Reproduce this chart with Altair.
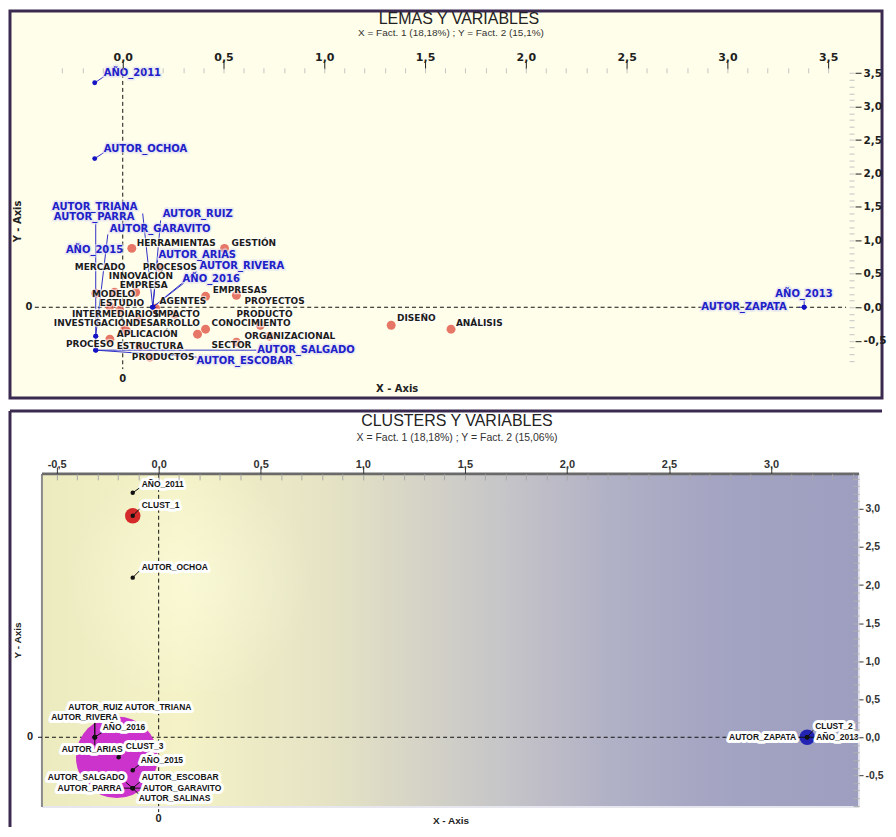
import altair as alt
import pandas as pd

# ====================== PANEL 1 : LEMAS Y VARIABLES ======================
lemas = ["HERRAMIENTAS", "GESTIÓN", "MERCADO", "PROCESOS", "INNOVACIÓN", "EMPRESA",
         "EMPRESAS", "MODELO", "ESTUDIO", "AGENTES", "PROYECTOS", "INTERMEDIARIOS",
         "IMPACTO", "PRODUCTO", "INVESTIGACIÓN", "DESARROLLO", "CONOCIMIENTO",
         "APLICACIÓN", "ORGANIZACIONAL", "PROCESO", "ESTRUCTURA", "SECTOR",
         "PRODUCTOS", "DISEÑO", "ANÁLISIS"]
lemas_x = [0.045, 0.505, -0.134, 0.183, -0.040, 0.064, 0.411, -0.064, -0.015, 0.163,
           0.564, 0.079, 0.257, 0.683, 0.010, 0.371, 0.411, 0.020, 0.728, -0.064,
           0.084, 0.564, 0.134, 1.332, 1.629]
lemas_y = [0.881, 0.881, 0.209, 0.597, 0.224, 0.224, 0.164, 0.015, -0.045, -0.015,
           0.179, -0.164, -0.104, -0.269, -0.328, -0.403, -0.328, -0.358, -0.433, -0.478,
           -0.582, -0.522, -0.746, -0.269, -0.328]
# label anchors (left edge / middle) in data units
lemas_lx = [0.069, 0.540, -0.238, 0.099, -0.069, -0.015, 0.446, -0.153, -0.114, 0.183,
            0.604, -0.252, 0.158, 0.564, -0.342, 0.050, 0.441, -0.030, 0.604, -0.282,
            -0.030, 0.441, 0.045, 1.361, 1.653]
lemas_ly = [0.955, 0.955, 0.597, 0.597, 0.463, 0.328, 0.254, 0.194, 0.060, 0.090,
            0.090, -0.104, -0.104, -0.104, -0.239, -0.239, -0.239, -0.403, -0.433, -0.552,
            -0.582, -0.567, -0.746, -0.164, -0.239]

variables = ["AÑO_2011", "AUTOR_OCHOA", "AUTOR_TRIANA", "AUTOR_PARRA", "AUTOR_GARAVITO",
             "AUTOR_RUIZ", "AÑO_2015", "AUTOR_ARIAS", "AUTOR_RIVERA", "AÑO_2016",
             "AÑO_2013", "AUTOR_ZAPATA", "AUTOR_SALGADO", "AUTOR_ESCOBAR"]
var_x = [-0.139, -0.139, 0.149, -0.134, -0.134, 0.149, -0.134, 0.149, 0.149, 0.149,
         3.381, 3.381, -0.134, -0.134]
var_y = [3.358, 2.224, 0.0, -0.642, -0.433, 0.0, -0.433, 0.0, 0.0, 0.0,
         0.0, 0.0, -0.642, -0.642]
var_lx = [-0.094, -0.094, -0.351, -0.342, -0.064, 0.198, -0.282, 0.178, 0.381, 0.297,
          3.238, 2.871, 0.668, 0.366]
var_ly = [3.507, 2.373, 1.507, 1.343, 1.164, 1.388, 0.851, 0.776, 0.612, 0.418,
          0.194, 0.0, -0.642, -0.806]
# end of the leader line near each label
var_cx = [-0.094, -0.094, 0.099, -0.134, -0.074, 0.188, -0.134, 0.173, 0.366, 0.302,
          3.381, 3.356, 0.663, 0.366]
var_cy = [3.448, 2.313, 1.403, 1.254, 1.090, 1.299, -0.433, 0.701, 0.537, 0.358,
          0.104, 0.0, -0.642, -0.746]

# ====================== PANEL 2 : CLUSTERS Y VARIABLES ======================
items2 = ["AÑO_2011", "CLUST_1", "AUTOR_OCHOA", "AUTOR_RUIZ", "AUTOR_TRIANA", "AUTOR_RIVERA",
          "AÑO_2016", "AUTOR_ARIAS", "CLUST_3", "AÑO_2015", "AUTOR_SALGADO", "AUTOR_ESCOBAR",
          "AUTOR_PARRA", "AUTOR_GARAVITO", "AUTOR_SALINAS", "CLUST_2", "AÑO_2013", "AUTOR_ZAPATA"]
items2_x = [-0.127, -0.127, -0.127, -0.313, -0.313, -0.313, -0.313, -0.313, -0.196, -0.127,
            -0.127, -0.127, -0.127, -0.127, -0.127, 3.177, 3.177, 3.177]
items2_y = [3.211, 2.910, 2.097, 0.0, 0.0, 0.0, 0.0, 0.0, -0.262, -0.432,
            -0.668, -0.668, -0.668, -0.668, -0.668, 0.0, 0.0, 0.0]
items2_lx = [-0.083, -0.083, -0.083, -0.176, -0.166, -0.200, -0.274, -0.176, -0.161, -0.088,
             -0.166, -0.083, -0.181, -0.078, -0.098, 3.216, 3.221, 3.123]
items2_ly = [3.329, 3.054, 2.241, 0.393, 0.393, 0.262, 0.131, -0.157, -0.118, -0.301,
             -0.524, -0.524, -0.668, -0.668, -0.799, 0.144, 0.0, 0.0]
items2_side = ["left", "left", "left", "right", "left", "right", "left", "right", "left", "left",
               "right", "left", "right", "left", "left", "left", "left", "right"]
items2_cx = [-0.093, -0.093, -0.093, -0.313, -0.313, -0.313, -0.269, -0.313, -0.166, -0.093,
             -0.161, -0.088, -0.171, -0.083, -0.093, 3.206, 3.216, 3.128]
items2_cy = [3.277, 3.001, 2.189, 0.328, 0.0, 0.210, 0.079, -0.105, -0.170, -0.354,
             -0.590, -0.577, -0.668, -0.668, -0.760, 0.092, 0.0, 0.0]

clusters = ["CLUST_1", "CLUST_3", "CLUST_2"]
clusters_x = [-0.127, -0.205, 3.177]
clusters_y = [2.910, -0.262, 0.0]

# axis tick values
p1_x_major = [0.0, 0.5, 1.0, 1.5, 2.0, 2.5, 3.0, 3.5]
p1_x_minor = [round(v / 10, 1) for v in range(-3, 36)]
p1_y_major = [-0.5, 0.0, 0.5, 1.0, 1.5, 2.0, 2.5, 3.0, 3.5]
p1_y_minor = [round(v / 10, 1) for v in range(-8, 36)]
p2_x_major = [-0.5, 0.0, 0.5, 1.0, 1.5, 2.0, 2.5, 3.0]
p2_x_minor = [round(v / 10, 1) for v in range(-5, 35)]
p2_y_major = [-0.5, 0.0, 0.5, 1.0, 1.5, 2.0, 2.5, 3.0]
p2_y_minor = [round(v / 10, 1) for v in range(-9, 35)]

# ====================== layout constants ======================
W1, H1 = 874, 388
W2, H2 = 874, 417
DX1, DY1 = [-0.5594, 3.7673], [-1.3582, 4.4328]
DX2, DY2 = [-0.7283, 3.5435], [-1.1795, 4.2857]
PLOT2 = dict(x0=-0.5718, x1=3.4311, y0=-0.917, y1=3.460)

LAB = "replace(replace(format(datum.value, '.1f'), '.', ','), '\u2212', '-')"
VERD = "DejaVu Sans"
ARIAL = "Liberation Sans"


def sx(dom):
    return alt.Scale(domain=dom, nice=False, zero=False)


def major_x(values, offset, size, pad, color, font, fsize):
    return alt.Axis(orient="top", values=values, labelExpr=LAB, offset=offset, domain=False,
                    grid=False, tickSize=size, tickColor=color, labelFont=font,
                    labelFontWeight="bold", labelFontSize=fsize, labelColor=color,
                    labelPadding=pad, title=None, zindex=3, labelOverlap=False, labelFlush=False)


def major_y(values, offset, size, color, font, fsize):
    return alt.Axis(orient="right", values=values, labelExpr=LAB, offset=offset, domain=False,
                    grid=False, tickSize=size, tickColor=color, labelFont=font,
                    labelFontWeight="bold", labelFontSize=fsize, labelColor=color, labelPadding=2,
                    title=None, zindex=3, labelOverlap=False, labelFlush=False)


def minor(orient, values, offset, size, color):
    return alt.Axis(orient=orient, values=values, offset=offset, domain=False, grid=False,
                    labels=False, tickSize=size, tickColor=color, title=None, zindex=3)


# ====================== PANEL 1 ======================
words = pd.DataFrame({"name": lemas, "x": lemas_x, "y": lemas_y, "lx": lemas_lx, "ly": lemas_ly})
vars1 = pd.DataFrame({"name": variables, "x": var_x, "y": var_y, "lx": var_lx, "ly": var_ly,
                      "cx": var_cx, "cy": var_cy})
zero_v1 = pd.DataFrame({"x": [0.0], "y": [3.49], "y2": [-0.925]})
zero_h1 = pd.DataFrame({"y": [0.0], "x": [-0.436], "x2": [3.589]})
zero_t1 = pd.DataFrame({"x": [0.0, -0.465], "y": [-1.075, 0.0], "t": ["0", "0"]})

XN1 = lambda f: alt.X(f, type="quantitative", scale=sx(DX1), axis=None)
YN1 = lambda f: alt.Y(f, type="quantitative", scale=sx(DY1), axis=None)

p1_layers = [
    alt.Chart(zero_v1).mark_rule(color="#111", strokeDash=[4, 3], strokeWidth=1).encode(
        x=XN1("x"), y=YN1("y"), y2="y2"),
    alt.Chart(zero_h1).mark_rule(color="#111", strokeDash=[4, 3], strokeWidth=1).encode(
        y=YN1("y"), x=XN1("x"), x2="x2"),
    alt.Chart(words).mark_circle(size=80, color="#e05848", opacity=0.82).encode(
        x=alt.X("x:Q", scale=sx(DX1),
                axis=major_x(p1_x_major, -58, 8, -2, "#1e1e1e", VERD, 11)),
        y=alt.Y("y:Q", scale=sx(DY1),
                axis=major_y(p1_y_major, -27, 6, "#1e1e1e", VERD, 10.5))),
    alt.Chart(vars1).mark_rule(color="#3030c8", strokeWidth=1).encode(
        x=XN1("x"), y=YN1("y"), x2="cx", y2="cy"),
    alt.Chart(vars1).mark_circle(size=24, color="#1414c4", opacity=1).encode(
        x=alt.X("x:Q", scale=sx(DX1), axis=minor("bottom", p1_x_minor, -331, 5, "#c4c4c4")),
        y=alt.Y("y:Q", scale=sx(DY1), axis=minor("left", p1_y_minor, -846, 5, "#c4c4c4"))),
    alt.Chart(words).mark_text(align="left", baseline="middle", font=VERD, fontWeight="bold",
                               fontSize=9, stroke="#ffffff", strokeWidth=2.5, strokeOpacity=0.6,
                               fill="#ffffff", fillOpacity=0.0).encode(
        x=XN1("lx"), y=YN1("ly"), text="name"),
    alt.Chart(words).mark_text(align="left", baseline="middle", font=VERD, fontWeight="bold",
                               fontSize=9, color="#1c1c1c").encode(
        x=XN1("lx"), y=YN1("ly"), text="name"),
    alt.Chart(vars1).mark_text(align="left", baseline="middle", font=VERD, fontWeight="bold",
                               fontSize=10, stroke="#dcdcf0", strokeWidth=3, strokeOpacity=0.6,
                               fillOpacity=0.0).encode(
        x=XN1("lx"), y=YN1("ly"), text="name"),
    alt.Chart(vars1).mark_text(align="left", baseline="middle", font=VERD, fontWeight="bold",
                               fontSize=10, color="#2020c8").encode(
        x=XN1("lx"), y=YN1("ly"), text="name"),
    alt.Chart(zero_t1).mark_text(align="center", baseline="middle", font=VERD, fontWeight="bold",
                                 fontSize=10, color="#1e1e1e").encode(
        x=XN1("x"), y=YN1("y"), text="t"),
    alt.Chart().mark_text(text="LEMAS Y VARIABLES", font=ARIAL, fontSize=16, color="#222",
                          align="center", baseline="middle").encode(
        x=alt.value(450), y=alt.value(8)),
    alt.Chart().mark_text(text="X = Fact. 1 (18,18%) ; Y = Fact. 2 (15,1%)", font=ARIAL,
                          fontSize=10, color="#333", align="center", baseline="middle").encode(
        x=alt.value(442), y=alt.value(22)),
    alt.Chart().mark_text(text="X - Axis", font=VERD, fontWeight="bold", fontSize=10,
                          color="#222", align="center", baseline="middle").encode(
        x=alt.value(388), y=alt.value(379)),
    alt.Chart().mark_text(text="Y - Axis", font=VERD, fontWeight="bold", fontSize=10,
                          color="#222", align="center", baseline="middle", angle=270).encode(
        x=alt.value(8), y=alt.value(211)),
]

panel1 = alt.layer(*p1_layers).resolve_axis(x="independent", y="independent").properties(
    width=W1, height=H1,
    view=alt.ViewBackground(fill="#fffeea", stroke="#3b2a4f", strokeWidth=3))

# ====================== PANEL 2 ======================
items = pd.DataFrame({"name": items2, "x": items2_x, "y": items2_y, "lx": items2_lx,
                      "ly": items2_ly, "side": items2_side, "cx": items2_cx, "cy": items2_cy})
clu = pd.DataFrame({"name": clusters, "x": clusters_x, "y": clusters_y})
plot_box = pd.DataFrame([PLOT2])
zero_v2 = pd.DataFrame({"x": [0.0], "y": [PLOT2["y1"]], "y2": [-0.983]})
zero_h2 = pd.DataFrame({"y": [0.0], "x": [-0.591], "x2": [PLOT2["x1"]]})
zero_t2 = pd.DataFrame({"x": [0.0, -0.630], "y": [-1.075, 0.0], "t": ["0", "0"]})

XN2 = lambda f: alt.X(f, type="quantitative", scale=sx(DX2), axis=None)
YN2 = lambda f: alt.Y(f, type="quantitative", scale=sx(DY2), axis=None)

grad = alt.LinearGradient(
    gradient="linear", x1=0, x2=1, y1=0, y2=0,
    stops=[alt.GradientStop(color="#ecebc0", offset=0.0),
           alt.GradientStop(color="#f4f2c6", offset=0.17),
           alt.GradientStop(color="#e4e2c4", offset=0.36),
           alt.GradientStop(color="#c8c7c8", offset=0.55),
           alt.GradientStop(color="#b0b0c6", offset=0.70),
           alt.GradientStop(color="#a2a2c2", offset=0.85),
           alt.GradientStop(color="#9e9ec0", offset=1.0)])
glow = alt.RadialGradient(
    gradient="radial", x1=0.5, y1=0.5, x2=0.5, y2=0.5, r1=0, r2=0.5,
    stops=[alt.GradientStop(color="rgba(255,255,225,0.55)", offset=0.0),
           alt.GradientStop(color="rgba(255,255,225,0.0)", offset=1.0)])
glow_box = pd.DataFrame({"x0": [-0.45], "x1": [0.75], "y0": [0.6], "y1": [3.46]})

label_style = dict(baseline="middle", font=ARIAL, fontWeight="bold", fontSize=8.5)

p2_layers = [
    alt.Chart(plot_box).mark_rect(color=grad).encode(
        x=XN2("x0"), x2="x1", y=YN2("y0"), y2="y1"),
    alt.Chart(glow_box).mark_rect(color=glow).encode(
        x=XN2("x0"), x2="x1", y=YN2("y0"), y2="y1"),
    alt.Chart(plot_box).mark_rule(color="#e6e6ee", strokeWidth=2).encode(
        x=XN2("x1"), y=YN2("y0"), y2="y1"),
    alt.Chart(plot_box).mark_rule(color="#e6e6ee", strokeWidth=2).encode(
        y=YN2("y0"), x=XN2("x0"), x2="x1"),
    alt.Chart(plot_box).mark_rule(color="#8a8a8a", strokeWidth=2).encode(
        x=XN2("x0"), y=YN2("y0"), y2="y1"),
    alt.Chart(plot_box).mark_rule(color="#6a6a6a", strokeWidth=3).encode(
        y=YN2("y1"), x=XN2("x0"), x2="x1"),
    alt.Chart(zero_v2).mark_rule(color="#111", strokeDash=[4, 3], strokeWidth=1).encode(
        x=XN2("x"), y=YN2("y"), y2="y2"),
    alt.Chart(zero_h2).mark_rule(color="#111", strokeDash=[4, 3], strokeWidth=1).encode(
        y=YN2("y"), x=XN2("x"), x2="x2"),
    alt.Chart(clu).mark_point(filled=True, opacity=1, shape="circle").encode(
        x=alt.X("x:Q", scale=sx(DX2), axis=minor("bottom", p2_x_minor, -354, 6, "#a8a8a8")),
        y=alt.Y("y:Q", scale=sx(DY2), axis=minor("left", p2_y_minor, -851, 6, "#b0b0b0")),
        color=alt.Color("name:N", legend=None,
                        scale=alt.Scale(domain=clusters, range=["#d42a2a", "#cc33cc", "#2424b4"])),
        size=alt.condition(alt.datum.name == "CLUST_3", alt.value(6700), alt.value(240))),
    alt.Chart(items).mark_rule(color="#111", strokeWidth=1).encode(
        x=XN2("x"), y=YN2("y"), x2="cx", y2="cy"),
    alt.Chart(items).mark_circle(size=20, color="#111", opacity=1).encode(
        x=alt.X("x:Q", scale=sx(DX2),
                axis=major_x(p2_x_major, -63, 7, -3, "#333333", ARIAL, 11)),
        y=alt.Y("y:Q", scale=sx(DY2),
                axis=major_y(p2_y_major, -23, 4, "#333333", ARIAL, 10.5))),
]
for side in ["left", "right"]:
    sub = alt.Chart(items).transform_filter(alt.datum.side == side)
    p2_layers.append(sub.mark_text(align=side, stroke="#ffffff", strokeWidth=6,
                                   strokeJoin="round", fill="#ffffff", **label_style).encode(
        x=XN2("lx"), y=YN2("ly"), text="name"))
for side in ["left", "right"]:
    sub = alt.Chart(items).transform_filter(alt.datum.side == side)
    p2_layers.append(sub.mark_text(align=side, color="#151515", **label_style).encode(
        x=XN2("lx"), y=YN2("ly"), text="name"))

p2_layers += [
    alt.Chart(zero_t2).mark_text(align="center", baseline="middle", font=ARIAL, fontWeight="bold",
                                 fontSize=11, color="#222").encode(
        x=XN2("x"), y=YN2("y"), text="t"),
    alt.Chart().mark_text(text="CLUSTERS Y VARIABLES", font=ARIAL, fontSize=16, color="#222",
                          align="center", baseline="middle").encode(
        x=alt.value(448), y=alt.value(10)),
    alt.Chart().mark_text(text="X = Fact. 1 (18,18%) ; Y = Fact. 2 (15,06%)", font=ARIAL,
                          fontSize=10.5, color="#333", align="center", baseline="middle").encode(
        x=alt.value(448), y=alt.value(27)),
    alt.Chart().mark_text(text="X - Axis", font=ARIAL, fontWeight="bold", fontSize=10,
                          color="#222", align="center", baseline="middle").encode(
        x=alt.value(442), y=alt.value(411)),
    alt.Chart().mark_text(text="Y - Axis", font=ARIAL, fontWeight="bold", fontSize=10,
                          color="#222", align="center", baseline="middle", angle=270).encode(
        x=alt.value(8), y=alt.value(230)),
    alt.Chart().mark_rule(color="#3b2a4f", strokeWidth=3).encode(
        x=alt.value(0), x2=alt.value(W2), y=alt.value(0)),
    alt.Chart().mark_rule(color="#3b2a4f", strokeWidth=3).encode(
        x=alt.value(0), y=alt.value(0), y2=alt.value(H2)),
]

panel2 = alt.layer(*p2_layers).resolve_axis(x="independent", y="independent").properties(
    width=W2, height=H2,
    view=alt.ViewBackground(fill="#ffffff", stroke="transparent", strokeWidth=0))

chart = alt.vconcat(panel1, panel2, spacing=13, bounds="flush").properties(
    padding={"left": 0, "top": 0, "right": 0, "bottom": 0},
    background="#ffffff")

chart.save("out.html", embed_options={"renderer": "svg", "actions": False})
